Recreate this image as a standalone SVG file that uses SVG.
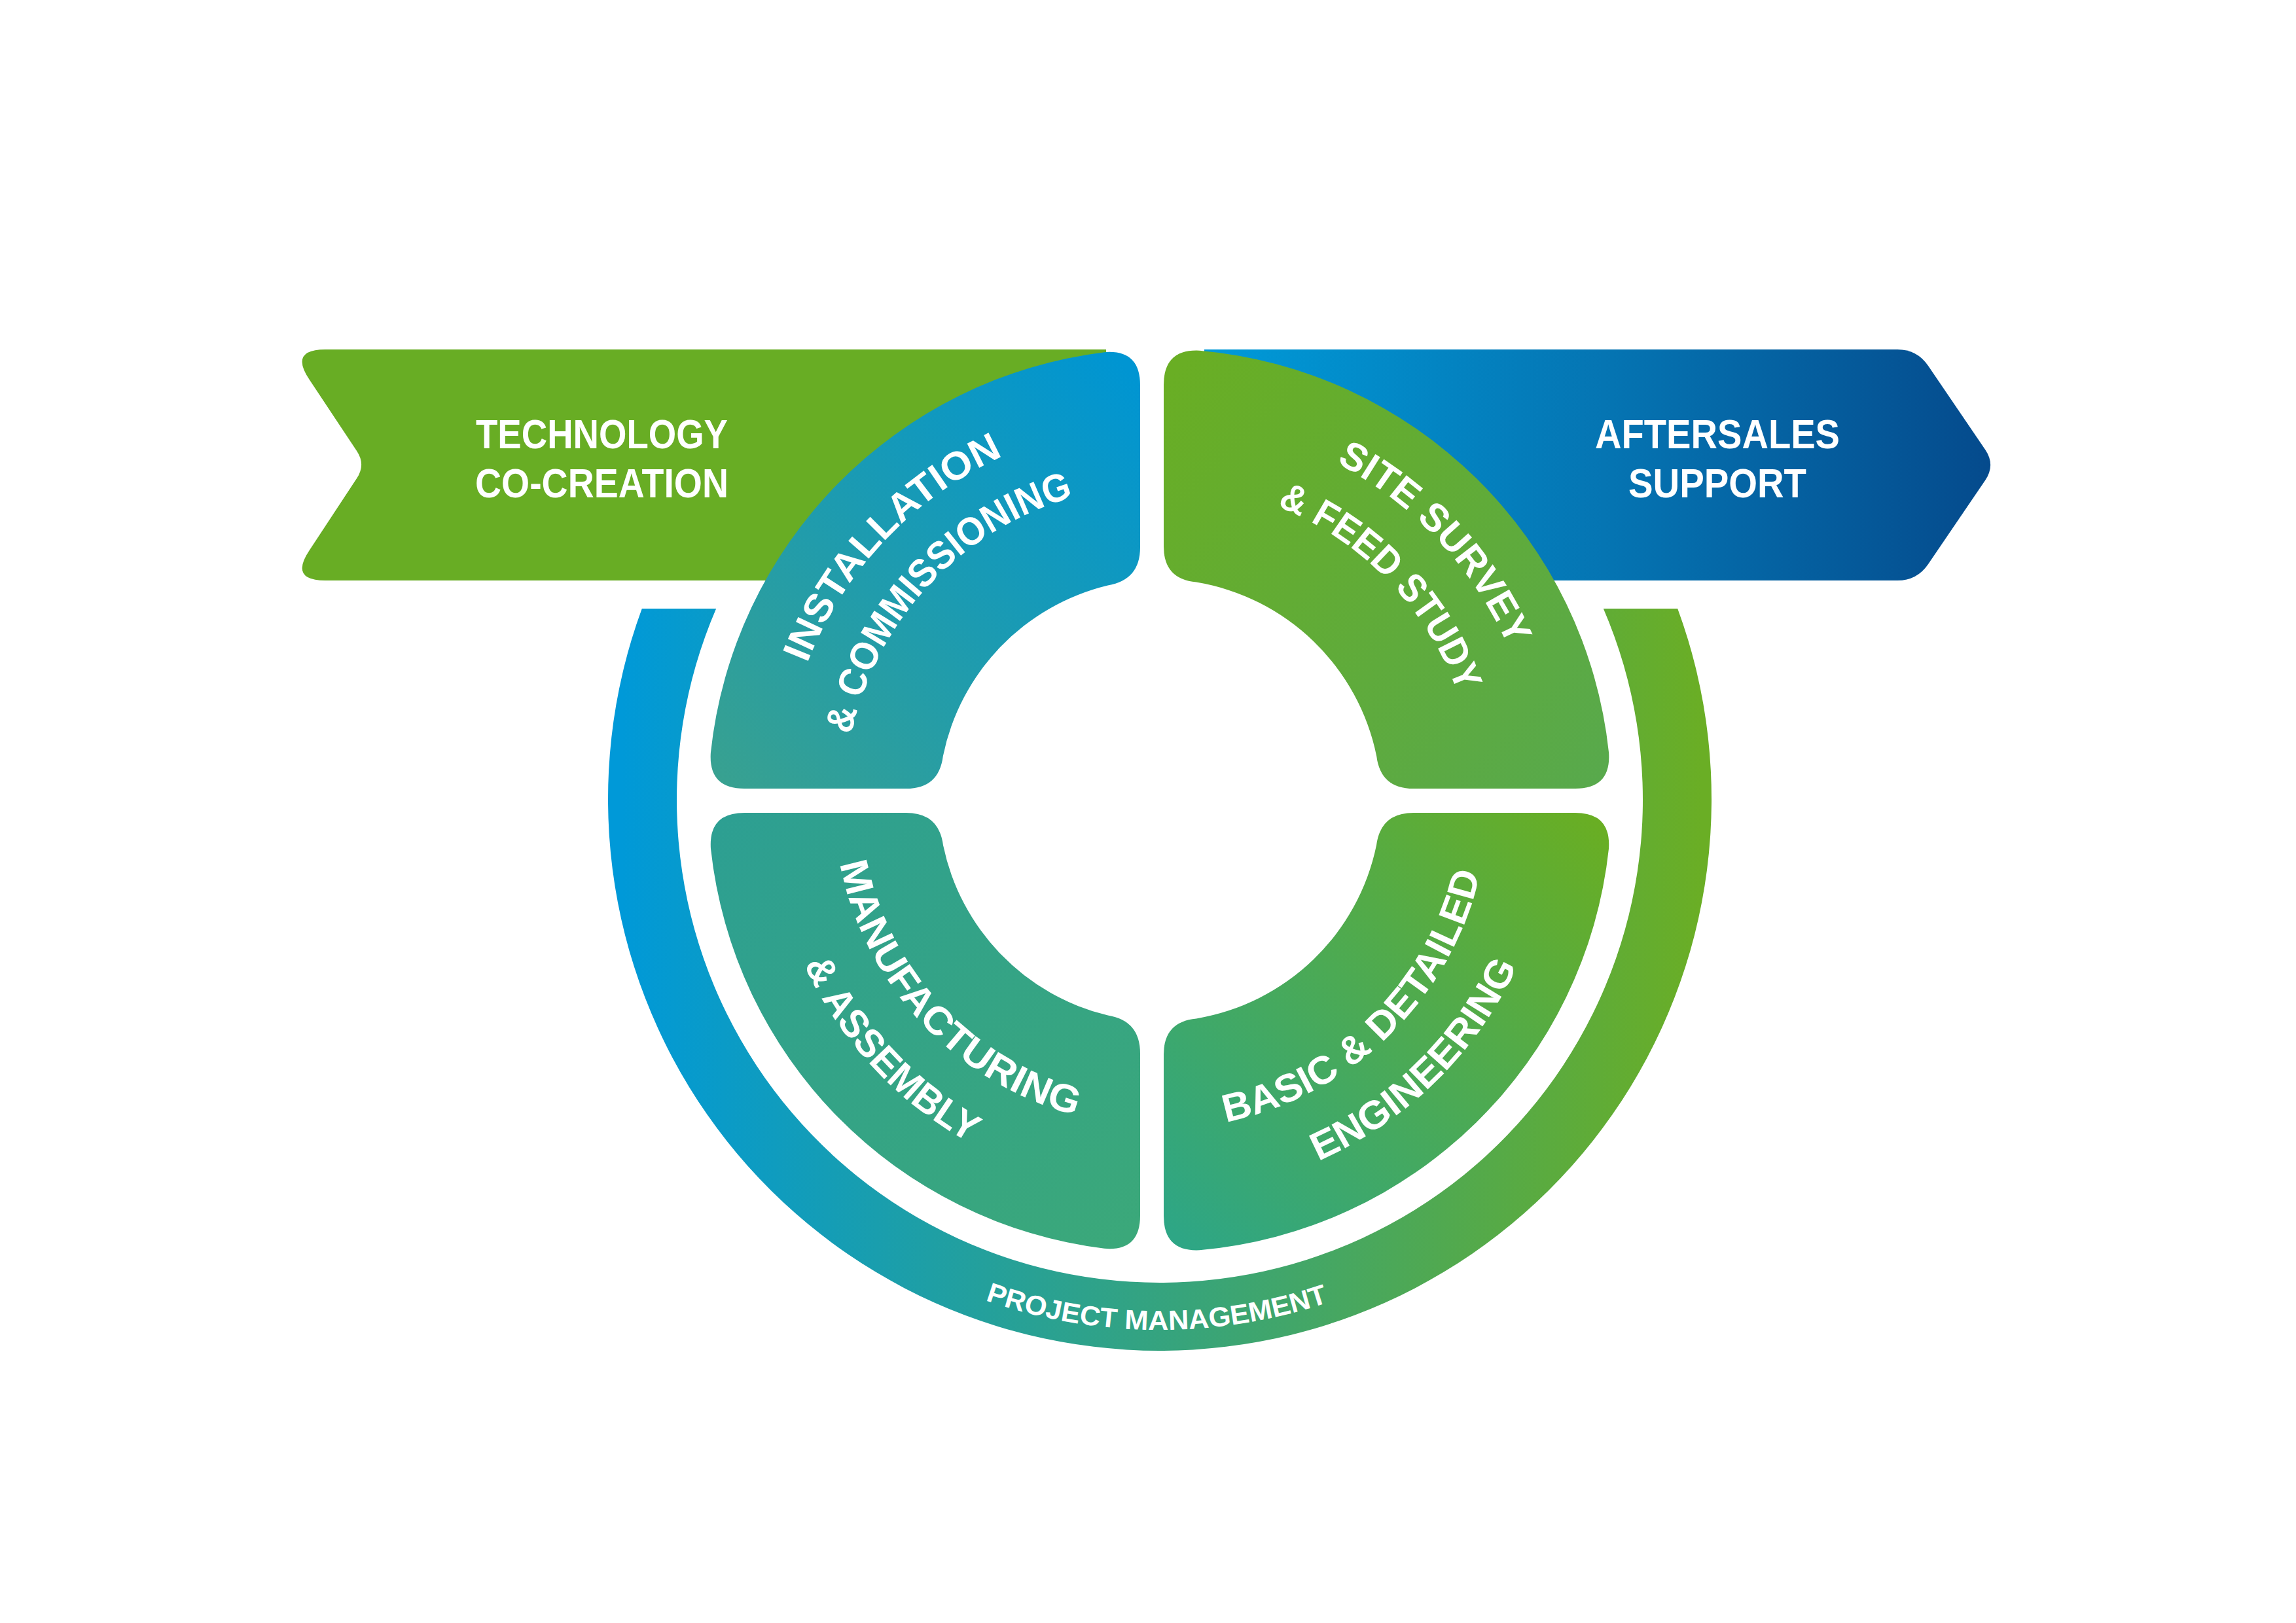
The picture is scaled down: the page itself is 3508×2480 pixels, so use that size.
<svg xmlns="http://www.w3.org/2000/svg" xmlns:xlink="http://www.w3.org/1999/xlink" width="3508" height="2480" viewBox="0 0 3508 2480">
<style>
.lbl{fill:#ffffff;font-family:"Liberation Sans",Arial,sans-serif;font-weight:700;}
.big{font-size:63px;}
.seg{font-size:60px;}
.pm{font-size:42px;}
</style>
<defs>
<linearGradient id="gAfter" gradientUnits="userSpaceOnUse" x1="1850" y1="0" x2="3049" y2="0">
<stop offset="0" stop-color="#009ad8"/><stop offset="0.5" stop-color="#0575b3"/><stop offset="1" stop-color="#054a8c"/>
</linearGradient>
<linearGradient id="gRing" gradientUnits="userSpaceOnUse" x1="950" y1="0" x2="2600" y2="0">
<stop offset="0" stop-color="#0099d8"/><stop offset="1" stop-color="#6aae25"/>
</linearGradient>
<linearGradient id="gInst" gradientUnits="userSpaceOnUse" x1="1720" y1="560" x2="1100" y2="1200">
<stop offset="0" stop-color="#0095d2"/><stop offset="1" stop-color="#38a190"/>
</linearGradient>
<linearGradient id="gSite" gradientUnits="userSpaceOnUse" x1="1800" y1="560" x2="2440" y2="1200">
<stop offset="0" stop-color="#69ae24"/><stop offset="1" stop-color="#58a94c"/>
</linearGradient>
<linearGradient id="gManu" gradientUnits="userSpaceOnUse" x1="1100" y1="1250" x2="1720" y2="1890">
<stop offset="0" stop-color="#2d9f92"/><stop offset="1" stop-color="#3ba87a"/>
</linearGradient>
<linearGradient id="gEng" gradientUnits="userSpaceOnUse" x1="2440" y1="1250" x2="1800" y2="1890">
<stop offset="0" stop-color="#69ae23"/><stop offset="1" stop-color="#2ea685"/>
</linearGradient>
<path id="pInst1" d="M1233.3,1013.6 A578,578 0 0 1 1532.8,696.8"/>
<path id="pInst2" d="M1300.5,1122.8 A482,482 0 0 1 1640.8,759.2"/>
<path id="pSite1" d="M2041.6,707.2 A582,582 0 0 1 2304.5,988.1"/>
<path id="pSite2" d="M1951.0,773.3 A484,484 0 0 1 2227.1,1058.3"/>
<path id="pManu1" d="M1283.5,1319.7 A498,498 0 0 0 1643.9,1704.3"/>
<path id="pManu2" d="M1228.7,1474.0 A598.5,598.5 0 0 0 1481.8,1746.5"/>
<path id="pEng1" d="M1872.9,1714.7 A502,502 0 0 0 2261.3,1335.1"/>
<path id="pEng2" d="M2014.0,1774.2 A602,602 0 0 0 2318.0,1476.5"/>
<path id="pPM" d="M1505.3,1986.9 A811,811 0 0 0 2030.0,1989.9"/>
</defs>
<rect x="0" y="0" width="3508" height="2480" fill="#ffffff"/>

<g id="banner-technology-co-creation">
<path d="M497,534 L1690,534 L1690,887 L497,887 Q442,887 472.5,841.2 L545.2,730.8 Q559,710 545.2,689.2 L472.5,579.8 Q442,534 497,534 Z" fill="#68ad24"/>
<text class="lbl big" x="727" y="685" textLength="385" lengthAdjust="spacingAndGlyphs">TECHNOLOGY</text>
<text class="lbl big" x="726" y="760" textLength="387" lengthAdjust="spacingAndGlyphs">CO-CREATION</text>
</g>

<g id="banner-aftersales-support">
<path d="M1840,534 L2899,534 Q2929,534 2945.9,558.8 L3033.3,687.3 Q3049,710.5 3033.3,733.7 L2945.9,862.2 Q2929,887 2899,887 L1840,887 Z" fill="url(#gAfter)"/>
<text class="lbl big" x="2437" y="685" textLength="374" lengthAdjust="spacingAndGlyphs">AFTERSALES</text>
<text class="lbl big" x="2488" y="760" textLength="272" lengthAdjust="spacingAndGlyphs">SUPPORT</text>
</g>

<g id="ring-project-management">
<path d="M980.8,930 A843,843 0 1 0 2563.2,930 L2449.8,930 A738,738 0 1 1 1094.2,930 Z" fill="url(#gRing)"/>
<text class="lbl pm"><textPath xlink:href="#pPM" href="#pPM" textLength="534" lengthAdjust="spacingAndGlyphs">PROJECT MANAGEMENT</textPath></text>
</g>

<g id="seg-installation-commissioning">
<path d="M1687.2,538.2 A690,690 0 0 0 1085.9,1150.0 Q1082.2,1205 1137.2,1205 L1384.5,1205 Q1434.5,1205 1440.8,1155.4 A338,338 0 0 1 1692.7,894.4 Q1742,886.3 1742,836.3 L1742,588.7 Q1742,533.7 1687.2,538.2 Z" fill="url(#gInst)"/>
<text class="lbl seg"><textPath xlink:href="#pInst1" href="#pInst1" textLength="447" lengthAdjust="spacingAndGlyphs">INSTALLATION</textPath></text>
<text class="lbl seg"><textPath xlink:href="#pInst2" href="#pInst2" textLength="523" lengthAdjust="spacingAndGlyphs">&amp; COMMISSIONING</textPath></text>
</g>

<g id="seg-site-survey-feed-study">
<path d="M1833.0,535.7 A690,690 0 0 1 2458.1,1150.0 Q2461.8,1205 2406.8,1205 L2159.5,1205 Q2109.5,1205 2103.2,1155.4 A338,338 0 0 0 1827.8,889.6 Q1778,885.05 1778,835 L1778,588 Q1778,533 1833.0,535.7 Z" fill="url(#gSite)"/>
<text class="lbl seg"><textPath xlink:href="#pSite1" href="#pSite1" textLength="392" lengthAdjust="spacingAndGlyphs">SITE SURVEY</textPath></text>
<text class="lbl seg"><textPath xlink:href="#pSite2" href="#pSite2" textLength="409" lengthAdjust="spacingAndGlyphs">&amp; FEED STUDY</textPath></text>
</g>

<g id="seg-manufacturing-assembly">
<path d="M1137.3,1242 L1384.5,1242 Q1434.5,1242 1441.0,1291.5 A338,338 0 0 0 1692.7,1551.6 Q1742,1559.7 1742,1609.7 L1742,1857.4 Q1742,1912.4 1687.2,1907.8 A690,690 0 0 1 1086.0,1296.9 Q1082.3,1242 1137.3,1242 Z" fill="url(#gManu)"/>
<text class="lbl seg"><textPath xlink:href="#pManu1" href="#pManu1" textLength="555" lengthAdjust="spacingAndGlyphs">MANUFACTURING</textPath></text>
<text class="lbl seg"><textPath xlink:href="#pManu2" href="#pManu2" textLength="378" lengthAdjust="spacingAndGlyphs">&amp; ASSEMBLY</textPath></text>
</g>

<g id="seg-basic-detailed-engineering">
<path d="M2406.7,1242 L2159.5,1242 Q2109.5,1242 2103.0,1291.5 A338,338 0 0 1 1827.8,1556.4 Q1778,1561 1778,1611 L1778,1858 Q1778,1913 1833.0,1910.3 A690,690 0 0 0 2458.0,1296.9 Q2461.7,1242 2406.7,1242 Z" fill="url(#gEng)"/>
<text class="lbl seg"><textPath xlink:href="#pEng1" href="#pEng1" textLength="574" lengthAdjust="spacingAndGlyphs">BASIC &amp; DETAILED</textPath></text>
<text class="lbl seg"><textPath xlink:href="#pEng2" href="#pEng2" textLength="435" lengthAdjust="spacingAndGlyphs">ENGINEERING</textPath></text>
</g>

<g id="connectors"/>
</svg>
